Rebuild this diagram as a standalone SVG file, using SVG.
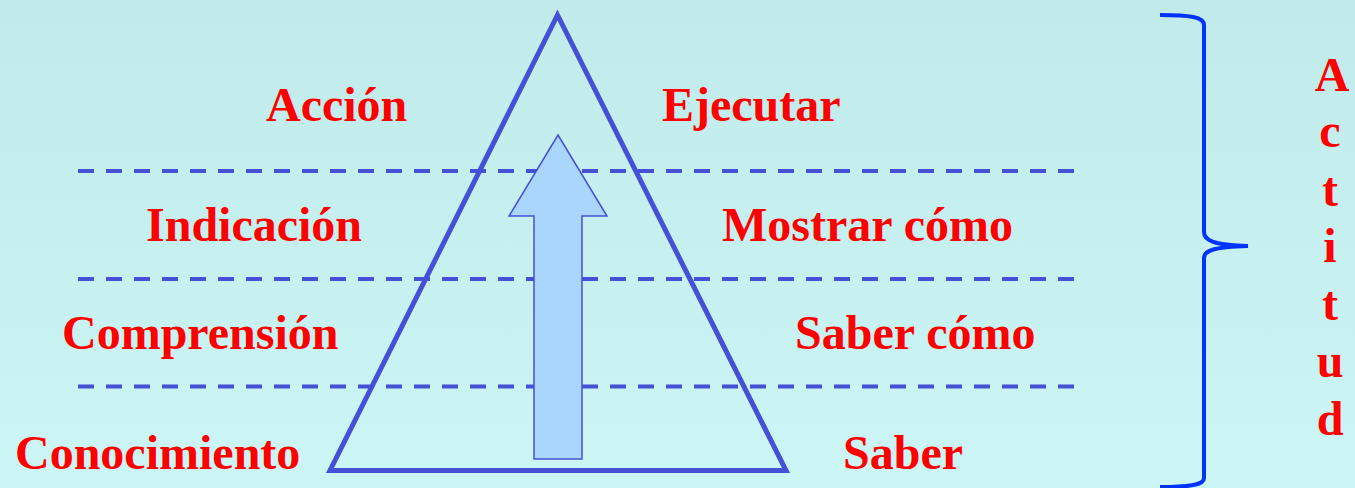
<svg xmlns="http://www.w3.org/2000/svg" width="1355" height="488" viewBox="0 0 1355 488">
<defs>
<linearGradient id="bg" x1="0" y1="0" x2="0" y2="1">
<stop offset="0" stop-color="#c1ebeb"/>
<stop offset="1" stop-color="#ccf6f6"/>
</linearGradient>
<style>
.lbl{font-family:"Liberation Serif","Times New Roman",serif;font-weight:bold;font-size:48px;fill:#ff0000}
.dash{stroke:#4450d6;stroke-width:4;stroke-dasharray:16 12;fill:none}
</style>
</defs>
<rect width="1355" height="488" fill="url(#bg)"/>
<g id="connectors">
<line class="dash" x1="78" y1="171" x2="1076" y2="171"/>
<line class="dash" x1="78" y1="279" x2="1076" y2="279"/>
<line class="dash" x1="78" y1="386.5" x2="1076" y2="386.5"/>
</g>
<g id="triangle">
<polygon points="557.5,15 330,470.5 786,470.5" fill="none" stroke="#4450d6" stroke-width="5" stroke-linejoin="miter"/>
</g>
<g id="arrow">
<polygon points="558,135 607,216 582,216 582,459 534,459 534,216 509,216" fill="#aad5fd" stroke="#4450d6" stroke-width="1.5"/>
</g>
<g id="brace">
<path d="M1160,15 C1190,15 1204,17 1204,25 L1204,232 C1204,240 1212,245 1248,246 C1212,247 1204,251 1204,258 L1204,478 C1204,485 1190,487 1160,487" fill="none" stroke="#0033ff" stroke-width="4"/>
</g>
<g id="labels-left">
<text class="lbl" x="266" y="121">Acción</text>
<text class="lbl" x="146" y="241">Indicación</text>
<text class="lbl" x="62" y="349">Comprensión</text>
<text class="lbl" x="15" y="469">Conocimiento</text>
</g>
<g id="labels-right">
<text class="lbl" x="662" y="121">Ejecutar</text>
<text class="lbl" x="722" y="241">Mostrar cómo</text>
<text class="lbl" x="795" y="349">Saber cómo</text>
<text class="lbl" x="843" y="469">Saber</text>
</g>
<g id="actitud" text-anchor="middle">
<text class="lbl" x="1332" y="91">A</text>
<text class="lbl" x="1330" y="147">c</text>
<text class="lbl" x="1330" y="206">t</text>
<text class="lbl" x="1330" y="262">i</text>
<text class="lbl" x="1330" y="320">t</text>
<text class="lbl" x="1330" y="377">u</text>
<text class="lbl" x="1330" y="435">d</text>
</g>
</svg>
